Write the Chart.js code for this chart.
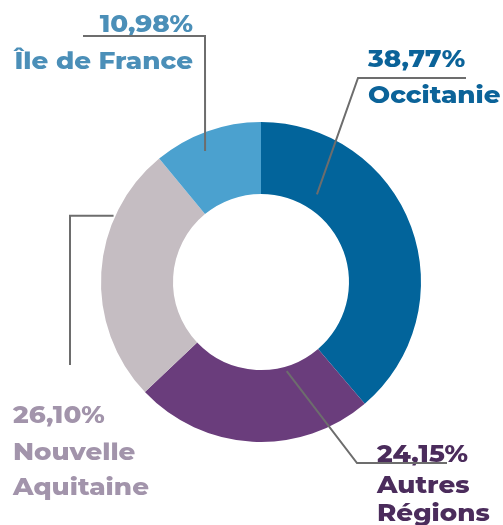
<!DOCTYPE html>
<html>
<head>
<meta charset="utf-8">
<script src="https://cdn.jsdelivr.net/npm/chart.js@4/dist/chart.umd.min.js"></script>
<style>
  html, body { margin: 0; padding: 0; background: #fff; }
  canvas { display: block; }
</style>
</head>
<body>
<canvas id="regionsChart" width="503" height="525"></canvas>
<script>
// data, clockwise from 12 o'clock
var regions = ['Occitanie', 'Autres Régions', 'Nouvelle Aquitaine', 'Île de France'];
var shares = [38.77, 24.15, 26.10, 10.98];
var sliceColors = ['#02649b', '#6a3d7c', '#c5bdc2', '#4ba1cf'];
var textColors = ['#0b6399', '#4b2c5c', '#a294ab', '#4b8fb8'];

// where each label and its leader line sit
// t = position along the slice, r = fraction of outer radius
var labelLayout = [
    { t: 0.233, r: 0.65, elbow: [358, 78], end: [466, 78], x: 368, align: 'left', baselines: [67, 103], wrap: false },
    { t: 0.28, r: 0.58, elbow: [357, 463], end: [447, 463], x: 377, align: 'left', baselines: [462, 493, 521], wrap: true },
    { t: 0.72, r: 1.01, elbow: [70, null], end: [70, 365], x: 13, align: 'left', baselines: [423, 460, 495], wrap: true },
    { t: 0.415, r: 0.89, elbow: [205, 36], end: [83, 36], x: 193, align: 'right', baselines: [32, 69], wrap: false }
];
var textStretch = 1.09; // the original face is wider than what we have here

function formatPct(v) {
    return v.toFixed(2).replace('.', ',') + '%';
}

var calloutPlugin = {
    id: 'callouts',
    afterDraw: function (chart) {
        var ctx = chart.ctx;
        var meta = chart.getDatasetMeta(0);
        ctx.save();
        ctx.font = '800 24px Montserrat, Inter, "Open Sans", sans-serif';
        ctx.textBaseline = 'alphabetic';
        meta.data.forEach(function (arc, i) {
            var lay = labelLayout[i];
            var lines = [formatPct(shares[i])].concat(lay.wrap ? regions[i].split(' ') : [regions[i]]);
            ctx.fillStyle = textColors[i];
            ctx.textAlign = lay.align;
            lines.forEach(function (txt, j) {
                ctx.save();
                ctx.translate(lay.x, lay.baselines[j]);
                ctx.scale(textStretch, 1);
                ctx.fillText(txt, 0, 0);
                ctx.restore();
            });
        });
        ctx.strokeStyle = '#6d6d6d';
        ctx.lineWidth = 2;
        meta.data.forEach(function (arc, i) {
            var lay = labelLayout[i];
            var p = arc.getProps(['x', 'y', 'startAngle', 'endAngle', 'outerRadius'], true);
            var a = p.startAngle + lay.t * (p.endAngle - p.startAngle);
            var ax = p.x + Math.cos(a) * p.outerRadius * lay.r;
            var ay = p.y + Math.sin(a) * p.outerRadius * lay.r;
            var ey = lay.elbow[1] === null ? ay : lay.elbow[1];
            ctx.beginPath();
            ctx.moveTo(ax, ay);
            ctx.lineTo(lay.elbow[0], ey);
            ctx.lineTo(lay.end[0], lay.end[1]);
            ctx.stroke();
        });
        ctx.restore();
    }
};

var chart = new Chart(document.getElementById('regionsChart'), {
    type: 'doughnut',
    data: {
        labels: regions,
        datasets: [{
            data: shares,
            backgroundColor: sliceColors,
            borderWidth: 0
        }]
    },
    options: {
        responsive: false,
        animation: false,
        cutout: '55%',
        layout: { padding: { left: 101, right: 82, top: 122, bottom: 83 } },
        plugins: {
            legend: { display: false },
            tooltip: { enabled: false }
        }
    },
    plugins: [calloutPlugin]
});
</script>
</body>
</html>
